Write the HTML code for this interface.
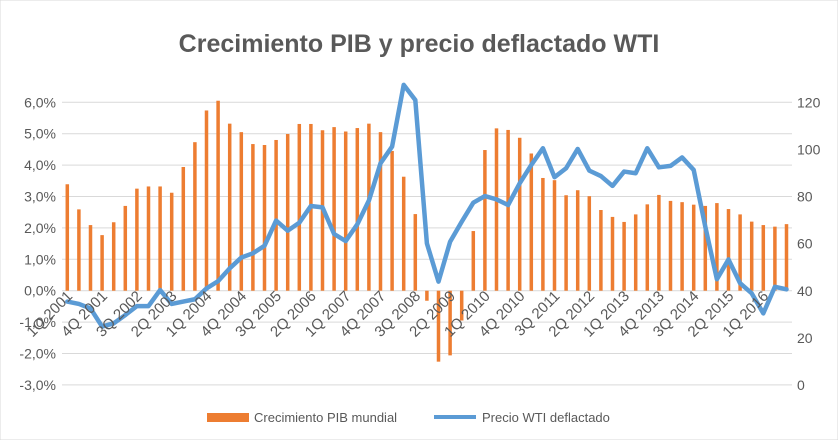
<!DOCTYPE html>
<html><head><meta charset="utf-8"><style>
html,body{margin:0;padding:0;background:#fff;}
svg{display:block;font-family:"Liberation Sans",sans-serif;}
</style></head><body>
<svg id="chart" width="838" height="440" viewBox="0 0 838 440">
<rect width="838" height="440" fill="#fff" stroke="#d9d9d9"/>
<text x="419" y="52" text-anchor="middle" font-size="25" font-weight="bold" fill="#595959">Crecimiento PIB y precio deflactado WTI</text>
<g id="grid"></g><g id="bars"></g><g id="line"></g><g id="axes"></g>
<g>
<rect x="207" y="413" width="42" height="9" fill="#ed7d31"/>
<text x="254" y="422" font-size="13" fill="#595959">Crecimiento PIB mundial</text>
<line x1="434" y1="417" x2="476" y2="417" stroke="#5b9bd5" stroke-width="4"/>
<text x="482" y="422" font-size="13" fill="#595959">Precio WTI deflactado</text>
</g>
</svg>
<script>
const gdp=[3.39,2.59,2.09,1.77,2.18,2.70,3.25,3.32,3.32,3.12,3.94,4.73,5.74,6.05,5.32,5.05,4.67,4.64,4.80,4.99,5.31,5.31,5.11,5.21,5.07,5.18,5.32,5.05,4.45,3.63,2.44,-0.32,-2.26,-2.06,-0.95,1.90,4.48,5.17,5.12,4.87,4.37,3.59,3.52,3.04,3.20,3.01,2.57,2.35,2.19,2.43,2.75,3.05,2.86,2.82,2.74,2.70,2.79,2.60,2.43,2.20,2.09,2.04,2.12];
const wti=[35.4,34.4,32.5,24.8,26.2,29.7,33.5,33.5,40.3,34.4,35.4,36.4,41.0,44.1,49.5,54.1,55.9,59.1,69.8,65.5,68.9,76.0,75.4,64.1,61.1,68.2,78.3,94.1,101.2,127.4,121.0,60.1,43.9,60.8,69.3,77.4,80.2,78.8,76.4,85.6,93.4,100.5,88.2,92.0,100.2,91.0,88.7,84.5,90.6,89.9,100.5,92.4,93.0,96.6,91.3,67.2,44.9,53.3,43.2,38.9,30.4,41.7,40.6];
const leftTicks=[-3,-2,-1,0,1,2,3,4,5,6];
const rightTicks=[0,20,40,60,80,100,120];
const xLabels=["1Q 2001","4Q 2001","3Q 2002","2Q 2003","1Q 2004","4Q 2004","3Q 2005","2Q 2006","1Q 2007","4Q 2007","3Q 2008","2Q 2009","1Q 2010","4Q 2010","3Q 2011","2Q 2012","1Q 2013","4Q 2013","3Q 2014","2Q 2015","1Q 2016"];
const NS="http://www.w3.org/2000/svg";
const x=i=>67.3+i*11.6;
const yL=v=>290.7-v*31.4;
const yR=v=>385-v*(282.7/120);
function mk(tag,attrs,parent,txt){const e=document.createElementNS(NS,tag);for(const k in attrs)e.setAttribute(k,attrs[k]);if(txt!==undefined)e.textContent=txt;document.getElementById(parent).appendChild(e);return e;}
leftTicks.forEach(t=>{
 const g=mk('line',{x1:62,x2:792,y1:yL(t),y2:yL(t),stroke:'#d9d9d9','stroke-width':1},'grid');
 
 
 const l=mk('text',{x:56,y:yL(t)+5,'text-anchor':'end','font-size':14,fill:'#595959'},'axes',t.toFixed(1).replace('.',',')+'%');
 
 
});
rightTicks.forEach(t=>{
 const l=mk('text',{x:797,y:yR(t)+5,'font-size':14,fill:'#595959'},'axes',String(t));
 
 
});
gdp.forEach((v,i)=>{
 const y0=yL(0),y1=yL(v);
 const r=mk('rect',{x:x(i)-1.75,y:Math.min(y0,y1),width:3.5,height:Math.abs(y1-y0),fill:'#ed7d31'},'bars');
 
 
});
const p=mk('polyline',{points:wti.map((v,i)=>x(i)+','+yR(v)).join(' '),fill:'none',stroke:'#5b9bd5','stroke-width':4.5,'stroke-linejoin':'round','stroke-linecap':'round'},'line');


xLabels.forEach((s,k)=>{
 const xx=x(k*3)+6,yy=297;
 const t=mk('text',{x:xx,y:yy,'text-anchor':'end','font-size':15,fill:'#595959',transform:`rotate(-45 ${xx} ${yy})`},'axes',s);
 
 
});
</script>
</body></html>
